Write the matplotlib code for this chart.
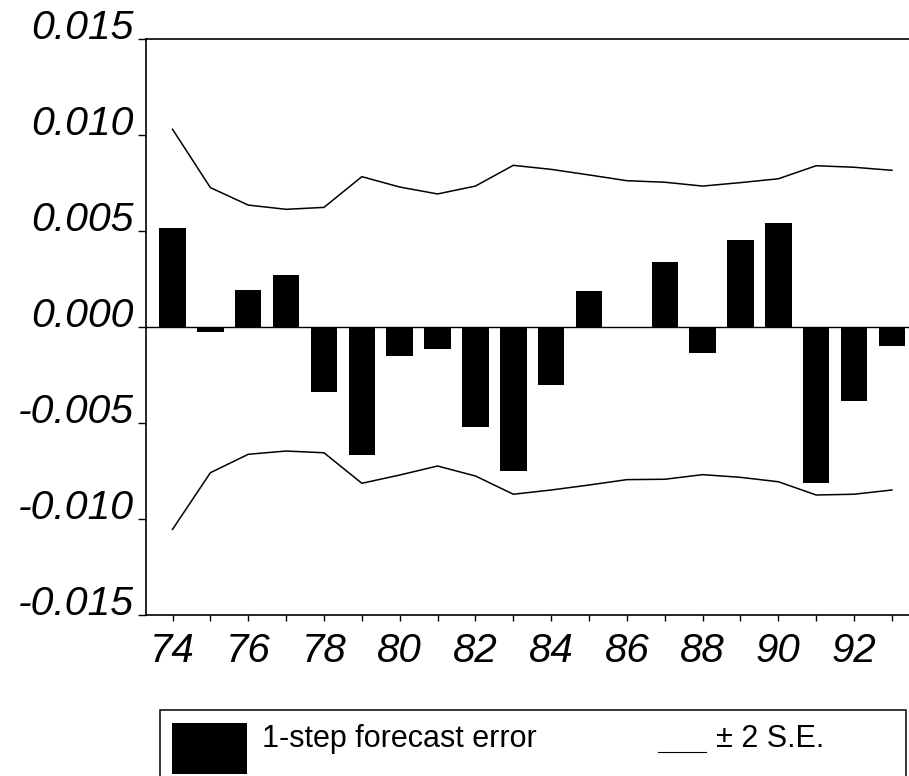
import numpy as np
import matplotlib
matplotlib.use('Agg')
from matplotlib import pyplot as plt
from matplotlib.patches import Rectangle
from matplotlib.lines import Line2D

# years (19xx) and recursive 1-step forecast errors
years = [74, 75, 76, 77, 78, 79, 80, 81, 82, 83, 84, 85, 86, 87, 88, 89, 90, 91, 92, 93]
errors = [0.00516, -0.00027, 0.00193, 0.00269, -0.0034, -0.00667, -0.0015, -0.00113,
          -0.0052, -0.0075, -0.0030, 0.0019, 0.0, 0.0034, -0.00134, 0.00453,
          0.0054, -0.00814, -0.00385, -0.00099]
# +/- 2 standard error bands
upper = [0.0103, 0.00726, 0.00635, 0.00613, 0.00623, 0.00783, 0.00729, 0.00693,
         0.00734, 0.00842, 0.00821, 0.00792, 0.00762, 0.00754, 0.00734, 0.00752,
         0.00772, 0.0084, 0.00832, 0.00816]
lower = [-0.01054, -0.00759, -0.00663, -0.00646, -0.00655, -0.00814, -0.00771, -0.00724,
         -0.00776, -0.00871, -0.00849, -0.00823, -0.00795, -0.00793, -0.00769, -0.00783,
         -0.00806, -0.00875, -0.00871, -0.00849]

yticks = [0.015, 0.010, 0.005, 0.000, -0.005, -0.010, -0.015]
ytick_labels = ['0.015', '0.010', '0.005', '0.000', '-0.005', '-0.010', '-0.015']
xticks = list(range(74, 93, 2))

plt.rcParams['font.family'] = ['Liberation Sans', 'DejaVu Sans']

fig = plt.figure(figsize=(9.09, 7.76), dpi=100)
ax = fig.add_axes([146 / 909, 161 / 776, 763 / 909, 576 / 776])

ax.bar(years, errors, width=0.7, color='black', zorder=2)
ax.axhline(0, color='black', lw=1.0, zorder=1)
ax.plot(years, upper, color='black', lw=1.1)
ax.plot(years, lower, color='black', lw=1.1)

ax.set_xlim(73.3, 93.45)
ax.set_ylim(-0.015, 0.015)

ax.set_yticks(yticks)
ax.set_yticklabels(ytick_labels, fontsize=29.5, style='italic')
for lab in ax.get_yticklabels():
    lab.set_verticalalignment('baseline')
ax.set_xticks(xticks)
ax.set_xticklabels([str(x) for x in xticks], fontsize=29, style='italic')
ax.set_xticks(list(range(75, 94, 2)), minor=True)

ax.tick_params(axis='y', direction='out', length=6, width=1.0, pad=3)
ax.tick_params(axis='x', which='both', direction='out', length=4, width=1.0, pad=8)

for side in ['left', 'bottom', 'top']:
    ax.spines[side].set_linewidth(1.2)
ax.spines['right'].set_visible(False)

# legend box below the plot
fig.patches.append(Rectangle((159.5 / 909, -0.02), 746.5 / 909, 66 / 776 + 0.02,
                             transform=fig.transFigure, facecolor='white',
                             edgecolor='black', lw=1.1))
fig.patches.append(Rectangle((171.7 / 909, 2 / 776), 75 / 909, 51.3 / 776,
                             transform=fig.transFigure, facecolor='black',
                             edgecolor='none'))
fig.text(261.7 / 909, 29.3 / 776, '1-step forecast error', fontsize=22,
         va='baseline', ha='left')
fig.lines.append(Line2D([658 / 909, 706 / 909], [24 / 776, 24 / 776],
                        transform=fig.transFigure, color='black', lw=0.8))
fig.text(716 / 909, 29.3 / 776, '± 2 S.E.', fontsize=22, va='baseline', ha='left')

fig.savefig('out.png', dpi=100)
